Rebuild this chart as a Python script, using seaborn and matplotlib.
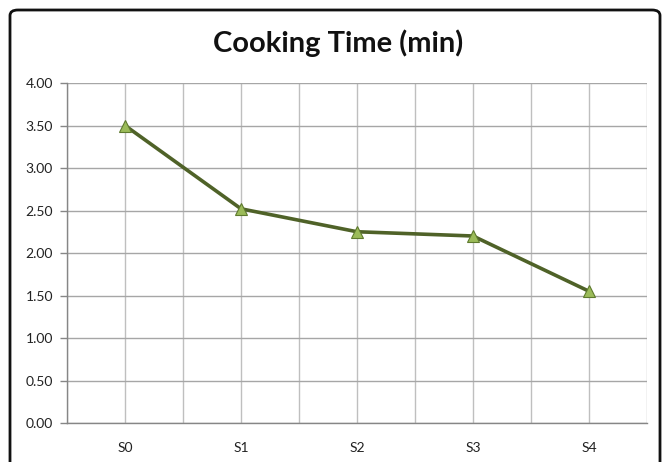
import numpy as np
import pandas as pd
import matplotlib
matplotlib.use("Agg")
import matplotlib.pyplot as plt
from matplotlib.patches import FancyBboxPatch
import seaborn as sns

categories = ["S0", "S1", "S2", "S3", "S4"]
cooking_time = [3.50, 2.52, 2.25, 2.20, 1.55]
y_ticks = [0.0, 0.5, 1.0, 1.5, 2.0, 2.5, 3.0, 3.5, 4.0]
title = "Cooking Time (min)"

sns.set_style("white")
plt.rcParams["font.family"] = ["Lato", "DejaVu Sans"]

W, H = 663, 462
fig = plt.figure(figsize=(W / 100, H / 100), dpi=100)
ax = fig.add_axes([67 / W, 1 - 423 / H, (647 - 67) / W, (423 - 83) / H])

df = pd.DataFrame({"cat": categories, "val": cooking_time})
sns.lineplot(data=df, x="cat", y="val", ax=ax, sort=False,
             color="#4F6228", linewidth=2.6, marker="^", markersize=9,
             markerfacecolor="#9BBB59", markeredgecolor="#5E7A2E",
             markeredgewidth=0.8, zorder=5)

ax.set_xlim(-0.5, len(categories) - 0.5)
ax.set_ylim(0, 4)
ax.set_yticks(y_ticks)
ax.set_yticklabels([f"{v:.2f}" for v in y_ticks], fontsize=10, color="#222222")
ax.set_xticks(np.arange(-0.5, len(categories), 1.0))
ax.set_xticklabels([""] * (len(categories) + 1))
ax.set_xticks(range(len(categories)), minor=True)
ax.set_xticklabels(categories, minor=True, fontsize=10, color="#222222")
ax.tick_params(axis="x", which="minor", length=0, pad=14)
ax.tick_params(axis="x", which="major", length=5, width=1, color="#868686", direction="out")
ax.tick_params(axis="y", length=5, width=1, color="#868686", direction="out", pad=5, left=True)
ax.set_xlabel("")
ax.set_ylabel("")

ax.grid(True, which="both", axis="x", color="#BFBFBF", linewidth=1)
ax.grid(True, which="major", axis="y", color="#A6A6A6", linewidth=1)
ax.set_axisbelow(True)
for s in ["top", "right"]:
    ax.spines[s].set_visible(False)
for s in ["left", "bottom"]:
    ax.spines[s].set_color("#868686")
    ax.spines[s].set_linewidth(1)

fig.text(0.51, 1 - 43 / H, title, ha="center", va="center",
         fontsize=21, fontweight="bold", color="#111111")

border = FancyBboxPatch((10 / W, -20 / H), (660 - 10) / W, (H - 10 + 20) / H,
                        boxstyle="round,pad=0,rounding_size=0.012",
                        transform=fig.transFigure, fill=False,
                        edgecolor="#111111", linewidth=2, clip_on=False)
fig.patches.append(border)

fig.savefig("out.png", dpi=100)
